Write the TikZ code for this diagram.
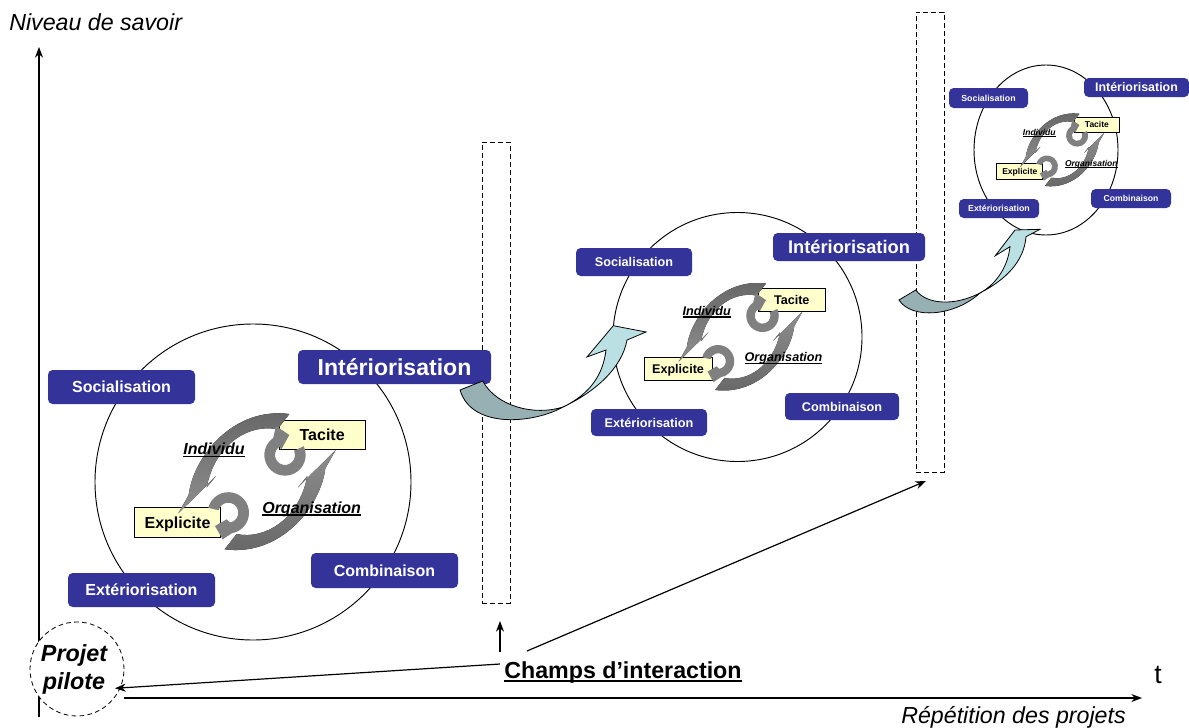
\documentclass[tikz,border=0pt]{standalone}
\usepackage{fontspec}
\setmainfont{Liberation Sans}
\usetikzlibrary{arrows.meta}
\definecolor{bluebox}{HTML}{333399}
\definecolor{yellowbox}{HTML}{FFFFCC}
\definecolor{ringgray}{HTML}{808080}
\definecolor{arrdark}{HTML}{666666}
\definecolor{arrlight}{HTML}{8E8E8E}
\definecolor{tealdark}{HTML}{96B0B4}
\definecolor{teallight}{HTML}{BBE0E3}
\newcommand{\fsz}[1]{\fontsize{#1pt}{\dimexpr #1pt*6/5\relax}\selectfont}
\newcommand{\ulin}[1]{\setbox0\hbox{#1}\leavevmode\rlap{\rule[-.17em]{\wd0}{.085em}}\box0}
\newcommand{\bluelabel}[7]{%
  \pgfmathsetmacro{\bw}{(#4-#2)*0.75}\pgfmathsetmacro{\bh}{(#5-#3)*0.75}%
  \node[bluelab,minimum width=\bw pt,minimum height=\bh pt,font=\bfseries\fsz{#6}] (#1) at ({(#2+#4)/2},{(#3+#5)/2}) {#7};}
% group of Tacite / Explicite cycle: prefix, origin x, origin y, scale, font size
\newcommand{\cycle}[5]{%
  \begin{scope}[shift={(#2,#3)},scale=#4/3]
    \node[yellowlab,minimum width={85.7*#4*0.75pt},minimum height={29.3*#4*0.75pt},font=\bfseries\fsz{#5}] (#1t) at (576.5,134) {Tacite};
    \node[yellowlab,minimum width={86.4*#4*0.75pt},minimum height={29.6*#4*0.75pt},font=\bfseries\fsz{#5}] (#1e) at (142.5,397.5) {Explicite};
    \fill[top color=arrdark,bottom color=arrlight]
      (478,72) -- (442,118) .. controls (360,100) and (255,160) .. (230,292)
      -- (258,258) -- (145,370) -- (176,315)
      .. controls (190,200) and (310,50) .. (478,72) -- cycle;
    \fill[top color=arrlight,bottom color=arrdark]
      (284,478) -- (320,432) .. controls (402,450) and (507,390) .. (532,258)
      -- (504,292) -- (617,180) -- (586,235)
      .. controls (572,350) and (452,500) .. (284,478) -- cycle;
    \fill[ringgray] (521.2,168.8) arc[start angle=-25,end angle=235,radius=62]
      -- (438,108) -- (478,135) -- (454,178) -- (447.8,170.4)
      arc[start angle=235,end angle=-25,radius=30] -- cycle;
    \fill[ringgray] (234.9,353.5) arc[start angle=194,end angle=440,radius=62]
      -- (278,448) -- (255,408) -- (290,388) -- (300.2,397.5)
      arc[start angle=440,end angle=194,radius=30] -- cycle;
    \node[ital,font=\bfseries\itshape\fsz{#5}] (#1i) at (252,176) {\ulin{Individu}};
    \node[ital,font=\bfseries\itshape\fsz{#5}] (#1o) at (545,352) {\ulin{Organisation}};
  \end{scope}}
\tikzset{
  bluelab/.style={fill=bluebox,text=white,rounded corners=3.5pt,inner sep=0pt},
  yellowlab/.style={draw=black,line width=.7pt,fill=yellowbox,text=black,inner sep=0pt,text depth=0pt},
  ital/.style={inner sep=0pt,text=black,text depth=0pt},
  axisline/.style={line width=.9pt,-{Stealth[length=8pt,width=6pt]}},
  dashbox/.style={draw=black,line width=.6pt,dash pattern=on 3.5pt off 2.5pt},
  bigcirc/.style={draw=black,line width=.7pt,fill=white},
  bendarrow/.style={draw=black,line width=.6pt},
}
\begin{document}
\begin{tikzpicture}[x=0.75pt,y=-0.75pt]
\useasboundingbox (0,0) rectangle (1189,728);
% axes
\coordinate (ybot) at (39,717);
\coordinate (ytop) at (39,47);
\coordinate (xleft) at (124,698);
\coordinate (xright) at (1142,698);
\draw[axisline] (ybot) -- (ytop);
\draw[axisline] (xleft) -- (xright);
\node[anchor=west,inner sep=0pt,font=\itshape\fsz{17.4}] (nv) at (9,22) {Niveau de savoir};
\node[anchor=east,inner sep=0pt,font=\itshape\fsz{17.4}] (rp) at (1126,717) {Répétition des projets};
\node[inner sep=0pt,font=\fsz{20}] (tt) at (1158,675) {t};
% dashed fields
\node[dashbox,minimum width=21pt,minimum height=345.75pt,inner sep=0pt] (f1) at (496,372.5) {};
\node[dashbox,minimum width=21pt,minimum height=345pt,inner sep=0pt] (f2) at (930,242) {};
% circles
\draw[bigcirc] (253,482) circle[radius=158];
\draw[bigcirc] (737.5,337) circle[radius=124.5];
\draw[bigcirc] (1046,150) circle[x radius=72,y radius=85];
% big group
\bluelabel{a1}{48}{370}{195}{404}{12}{Socialisation}
\bluelabel{a2}{298}{350}{491}{384}{17.3}{Intériorisation}
\bluelabel{a3}{311}{553}{458}{588}{12}{Combinaison}
\bluelabel{a4}{68}{573}{215}{607}{12}{Extériorisation}
\cycle{a}{130}{390}{1}{12}
% middle group
\bluelabel{b1}{576}{248}{692}{276}{9.5}{Socialisation}
\bluelabel{b2}{773}{233}{925}{261}{13.7}{Intériorisation}
\bluelabel{b3}{785}{393}{899}{420}{9.5}{Combinaison}
\bluelabel{b4}{591}{409}{707}{436}{9.5}{Extériorisation}
\cycle{b}{640.7}{264.7}{0.786}{9.45}
% small group
\bluelabel{c1}{949}{88}{1028}{108}{6.6}{Socialisation}
\bluelabel{c2}{1084}{78}{1189}{97}{9.3}{Intériorisation}
\bluelabel{c3}{1091}{189}{1171}{208}{6.5}{Combinaison}
\bluelabel{c4}{959}{199}{1039}{218}{6.6}{Extériorisation}
\cycle{c}{994.5}{101}{0.533}{6.4}
% curved arrow 1
\draw[bendarrow,fill=teallight] (563,407) .. controls (590,394) and (603,375) .. (606,350)
  -- (587,357) -- (613.3,325.7) -- (646,332) -- (627,340)
  .. controls (622,368) and (595,392) .. (563,407) -- cycle;
\draw[bendarrow,fill=tealdark] (460,390) -- (482.7,381)
  .. controls (497,407) and (535,416) .. (563,407)
  .. controls (535,423) and (472,430) .. (460,390) -- cycle;
% curved arrow 2
\draw[bendarrow,fill=teallight] (980,293) .. controls (998,283) and (1008,265) .. (1010,246.7)
  -- (995.3,255.7) -- (1015,230) -- (1040,229.3) -- (1026,236.7)
  .. controls (1024,262) and (1005,280) .. (980,293) -- cycle;
\draw[bendarrow,fill=tealdark] (899,300) -- (915.7,290)
  .. controls (927,305) and (955,306) .. (980,293)
  .. controls (955,316) and (912,320) .. (899,300) -- cycle;
% pilot
\node[draw=black,line width=.6pt,dash pattern=on 3.5pt off 2.5pt,circle,fill=white,minimum size=70.5pt,inner sep=0pt,align=center,font=\bfseries\itshape\fsz{17.5}] (pilote) at (77,669) {Projet\hspace*{4.5pt}\\pilote\hspace*{4.5pt}};
\node[inner sep=1pt,text depth=0pt,font=\bfseries\fsz{17.4}] (champs) at (623,670) {\ulin{Champs d’interaction}};
\coordinate (c1s) at (500,664);
\coordinate (c1e) at (115,688.3);
\coordinate (c2s) at (500,652);
\coordinate (c2e) at (500,621);
\coordinate (c3s) at (527,651);
\coordinate (c3e) at (926,481);
\draw[axisline] (c1s) -- (c1e);
\draw[axisline] (c2s) -- (c2e);
\draw[axisline] (c3s) -- (c3e);
\end{tikzpicture}
\end{document}
